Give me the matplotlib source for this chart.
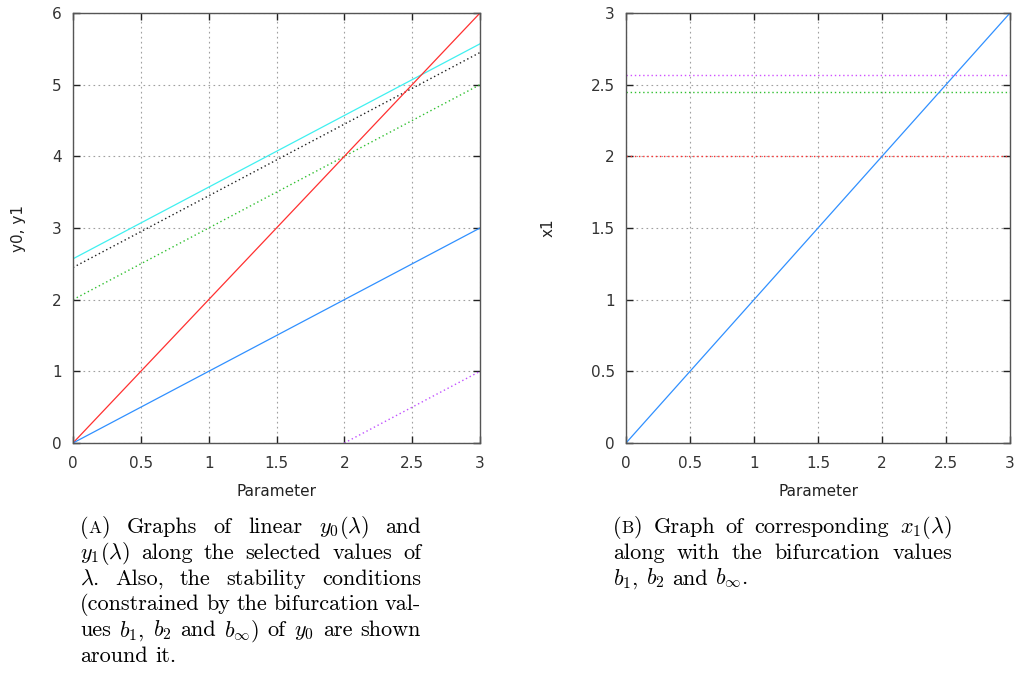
import matplotlib.pyplot as plt

plt.rcParams['mathtext.fontset'] = 'cm'

# Data (straight lines, endpoints only)
lam = [0, 3]
y_red = [0, 6]            # y1
y_blue = [0, 3]           # y0
y_cyan = [2.57, 5.57]     # y0 + b_inf
y_black = [2.449, 5.449]  # y0 + b2
y_green = [2.0, 5.0]      # y0 + b1
lam_mag = [2, 3]
y_mag = [0, 1]

x1 = [0, 3]
b_vals = [2.0, 2.449, 2.57]
b_cols = ['#ff3030', '#30c030', '#d050ff']

xticks = [0, 0.5, 1, 1.5, 2, 2.5, 3]
xlabels = ['0', '0.5', '1', '1.5', '2', '2.5', '3']

cap_a = [
    r'(A) Graphs of linear $y_0(\lambda)$ and',
    r'$y_1(\lambda)$ along the selected values of',
    r'$\lambda$. Also, the stability conditions',
    r'(constrained by the bifurcation val-',
    r'ues $b_1$, $b_2$ and $b_\infty$) of $y_0$ are shown',
    r'around it.',
]
cap_b = [
    r'(B) Graph of corresponding $x_1(\lambda)$',
    r'along with the bifurcation values',
    r'$b_1$, $b_2$ and $b_\infty$.',
]

W, H = 1014, 673
fig = plt.figure(figsize=(W/100, H/100), dpi=100)
ax1 = fig.add_axes([73/W, 1-443/H, (480-73)/W, (443-13)/H])
ax2 = fig.add_axes([626/W, 1-443/H, (1010-626)/W, (443-13)/H])

def style(ax, ymax, yticks, ylabels):
    ax.set_xlim(0, 3)
    ax.set_ylim(0, ymax)
    ax.set_xticks(xticks)
    ax.set_xticklabels(xlabels)
    ax.set_yticks(yticks)
    ax.set_yticklabels(ylabels)
    ax.tick_params(direction='in', length=5, width=1, top=True, right=True,
                   labelsize=11, labelcolor='#333333', color='#222222')
    ax.tick_params(axis='x', pad=9)
    ax.tick_params(axis='y', pad=8)
    ax.grid(True, color='#a0a0a0', linestyle=(0, (1.5, 3)), linewidth=0.8)
    for s in ax.spines.values():
        s.set_color('#555555')
        s.set_linewidth(1)
    ax.set_xlabel('Parameter', fontsize=11, color='#222222', labelpad=10)

dot = (0, (1, 2))

ax1.plot(lam, y_cyan, color='#40f0f0', lw=0.9)
ax1.plot(lam, y_black, color='#202020', lw=1.0, ls=dot)
ax1.plot(lam, y_green, color='#30c030', lw=1.0, ls=dot)
ax1.plot(lam, y_red, color='#ff3030', lw=0.9)
ax1.plot(lam, y_blue, color='#3090ff', lw=0.9)
ax1.plot(lam_mag, y_mag, color='#c050ff', lw=1.0, ls=dot)
style(ax1, 6, [0, 1, 2, 3, 4, 5, 6], ['0', '1', '2', '3', '4', '5', '6'])
ax1.set_ylabel('y0, y1', fontsize=11, color='#222222', labelpad=19)

for b, c in zip(b_vals, b_cols):
    ax2.plot(lam, [b, b], color=c, lw=1.0, ls=dot)
ax2.plot(lam, x1, color='#3090ff', lw=0.9)
style(ax2, 3, [0, 0.5, 1, 1.5, 2, 2.5, 3], ['0', '0.5', '1', '1.5', '2', '2.5', '3'])
ax2.set_ylabel('x1', fontsize=11, color='#222222', labelpad=25)

# justified captions, one text per word
FS = 16
renderer = fig.canvas.get_renderer()

def make_word(tok):
    kw = dict(fontname='cmr10', va='baseline', ha='left', color='black')
    if tok in ('(A)', '(B)'):
        return [fig.text(0, 0, '(', fontsize=FS, **kw),
                fig.text(0, 0, tok[1], fontsize=FS*0.78, **kw),
                fig.text(0, 0, ')', fontsize=FS, **kw)]
    return [fig.text(0, 0, tok, fontsize=FS, **kw)]

def width(pieces):
    return sum(p.get_window_extent(renderer).width for p in pieces)

def caption(lines, x0, x1p, ybase, step):
    for i, line in enumerate(lines):
        words = [make_word(t) for t in line.split(' ')]
        ws = [width(w) for w in words]
        if i < len(lines) - 1 and len(words) > 1:
            gap = (x1p - x0 - sum(ws)) / (len(words) - 1)
        else:
            gap = FS * 0.333 * 100 / 72
        x = x0
        y = 1 - (ybase + i*step) / H
        for w, wd in zip(words, ws):
            xp = x
            for p in w:
                p.set_position((xp / W, y))
                xp += p.get_window_extent(renderer).width
            x += wd + gap

caption(cap_a, 80, 421, 533, 25.8)
caption(cap_b, 613, 952, 533, 25.8)

fig.savefig('out.png', dpi=100)
